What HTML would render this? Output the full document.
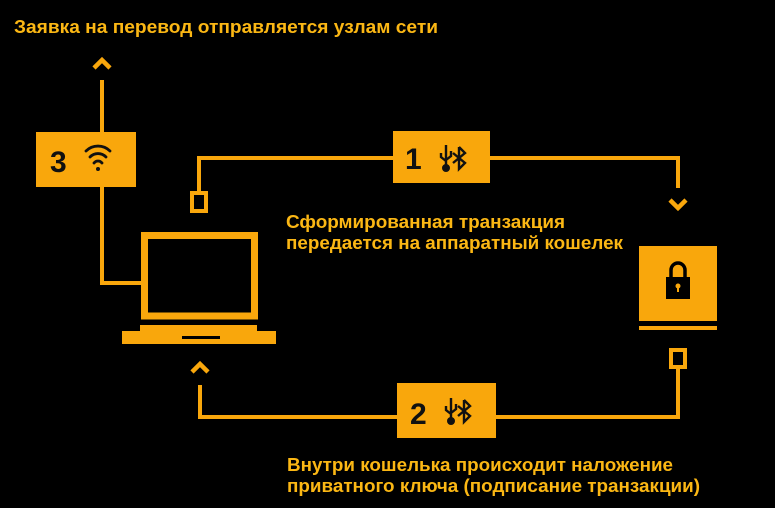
<!DOCTYPE html>
<html><head><meta charset="utf-8"><style>
html,body{margin:0;padding:0;background:#000;}
svg{display:block}
text{font-family:"Liberation Sans",sans-serif;font-weight:bold;}
</style></head><body>
<svg width="775" height="508" viewBox="0 0 775 508" xmlns="http://www.w3.org/2000/svg">
<rect width="775" height="508" fill="#000"/>
<g fill="none" stroke="#f9a70c" stroke-width="4">
  <polyline points="102,80 102,283 142,283"/>
  <polyline points="94,68 102,60 110,68" stroke-width="4.5"/>
  <polyline points="199,192 199,158 678,158 678,188"/>
  <polyline points="670,200 678,208 686,200" stroke-width="4.5"/>
  <polyline points="678,368 678,417 200,417 200,385"/>
  <polyline points="192,372 200,364 208,372" stroke-width="4.5"/>
  <rect x="192" y="193" width="14" height="18"/>
  <rect x="671" y="350" width="14" height="17"/>
  <rect x="144.5" y="235.5" width="110" height="80.5" stroke-width="7"/>
</g>
<g fill="#f9a70c">
  <rect x="36" y="132" width="100" height="55"/>
  <rect x="393" y="131" width="97" height="52"/>
  <rect x="397" y="383" width="99" height="55"/>
  <rect x="140" y="325" width="117" height="7"/>
  <rect x="122" y="331" width="154" height="13"/>
  <rect x="639" y="246" width="78" height="75"/>
  <rect x="639" y="326" width="78" height="4"/>
</g>
<rect x="182" y="336" width="38" height="3" fill="#000"/>
<g>
  <path d="M671,278 v-8 a7,7 0 0 1 14,0 v8" fill="none" stroke="#000" stroke-width="3.5"/>
  <rect x="666" y="277" width="24" height="22" fill="#000"/>
  <circle cx="678" cy="286" r="2.5" fill="#f9a70c"/>
  <rect x="677" y="286" width="2" height="6" fill="#f9a70c"/>
</g>
<text x="50" y="172" font-size="30" fill="#111">3</text>
<g fill="none" stroke="#111" stroke-width="2.8" stroke-linecap="round">
  <path d="M86,151 a17,17 0 0 1 24,0"/>
  <path d="M90,157 a11,11 0 0 1 16,0"/>
  <path d="M94,163 a5,5 0 0 1 8,0"/>
</g>
<circle cx="98" cy="169" r="2" fill="#111"/>
<text x="405" y="169" font-size="30" fill="#111">1</text>
<text x="410" y="424" font-size="30" fill="#111">2</text>
<g fill="none" stroke="#111" stroke-width="2.4">
  <g transform="translate(441,145)">
    <path d="M5,0 v22 M0,8 v4 l5,4 M10,6 v5 l-5,4"/>
    <circle cx="5" cy="23" r="2.8" fill="#111"/>
    <path d="M18,2 v22 l6,-6 -12,-10 M18,2 l6,6 -12,10"/>
  </g>
  <g transform="translate(446,398)">
    <path d="M5,0 v22 M0,8 v4 l5,4 M10,6 v5 l-5,4"/>
    <circle cx="5" cy="23" r="2.8" fill="#111"/>
    <path d="M18,2 v22 l6,-6 -12,-10 M18,2 l6,6 -12,10"/>
  </g>
</g>
<g fill="#fbb714" font-size="18">
  <text x="14" y="33" textLength="424" lengthAdjust="spacingAndGlyphs">Заявка на перевод отправляется узлам сети</text>
  <text x="286" y="228" textLength="279" lengthAdjust="spacingAndGlyphs">Сформированная транзакция</text>
  <text x="286" y="249" textLength="337" lengthAdjust="spacingAndGlyphs">передается на аппаратный кошелек</text>
  <text x="287" y="471" textLength="386" lengthAdjust="spacingAndGlyphs">Внутри кошелька происходит наложение</text>
  <text x="287" y="492" textLength="413" lengthAdjust="spacingAndGlyphs">приватного ключа (подписание транзакции)</text>
</g>
</svg>
</body></html>
